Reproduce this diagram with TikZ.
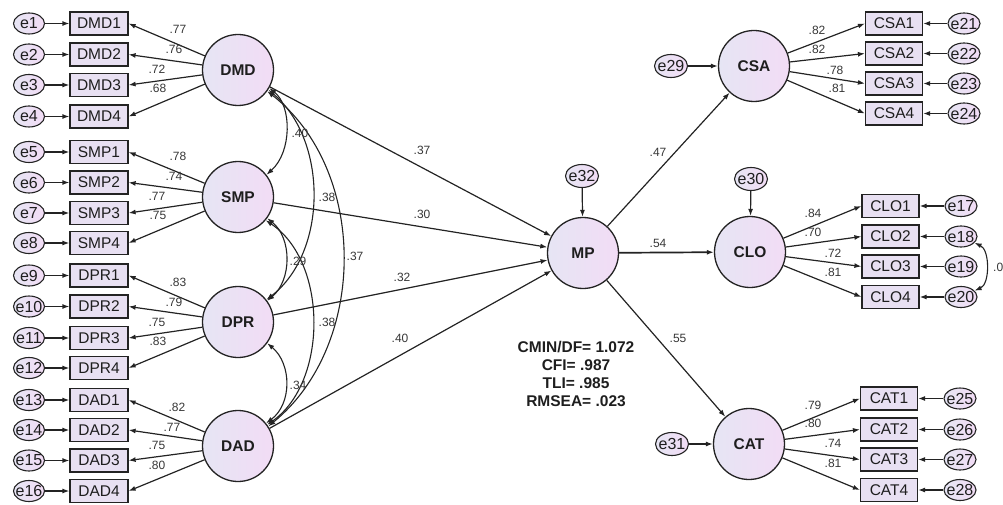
\documentclass[tikz,border=0pt]{standalone}
\usepackage{fontspec}
\setmainfont{Liberation Sans}
\usetikzlibrary{arrows.meta,shapes.geometric}
\definecolor{latL}{RGB}{230,229,244}
\definecolor{latR}{RGB}{242,220,245}
\definecolor{boxc}{RGB}{232,224,242}
\definecolor{linec}{RGB}{35,35,35}
\definecolor{txtc}{RGB}{30,30,30}
\definecolor{labc}{RGB}{55,55,55}
\newcommand\myobsf{\fontsize{15.5}{18}\selectfont}
\newcommand\mylatf{\fontsize{15.5}{18}\selectfont\bfseries}
\newcommand\myerrf{\fontsize{16}{18}\selectfont}
\newcommand\mylabf{\fontsize{12}{14}\selectfont}
\newcommand\mystatf{\fontsize{15.5}{18}\selectfont\bfseries}
\tikzset{
  lat/.style={circle, draw=linec, line width=1.3pt, minimum size=71pt, inner sep=0pt,
    left color=latL, right color=latR, text=txtc, font=\mylatf},
  obs/.style={rectangle, draw=linec, line width=1.2pt, minimum width=58pt, minimum height=23pt,
    inner sep=0pt, fill=boxc, text=txtc, font=\myobsf},
  err/.style={ellipse, draw=linec, line width=1.1pt, minimum width=31pt, minimum height=21pt,
    inner sep=0pt, left color=latL, right color=latR},
  errb/.style={err, minimum width=33pt, minimum height=23pt},
  etxt/.style={font=\myerrf, text=txtc, inner sep=0pt},
  arr/.style={draw=linec, line width=1.2pt, -{Latex[length=7pt,width=5pt]}},
  cov/.style={draw=linec, line width=1.1pt, {Latex[length=7pt,width=5pt]}-{Latex[length=7pt,width=5pt]}},
  lab/.style={font=\mylabf, text=labc, inner sep=0pt},
}
\begin{document}
\begin{tikzpicture}[x=1pt,y=-1pt]
\useasboundingbox (0,0) rectangle (1003,505);

% ---------- latent variables ----------
\node[lat] (DMD) at (238,70) {DMD};
\node[lat] (SMP) at (238,197) {SMP};
\node[lat] (DPR) at (238,322) {DPR};
\node[lat] (DAD) at (238,446) {DAD};
\node[lat] (MP) at (583,253) {MP};
\node[lat] (CSA) at (754,66) {CSA};
\node[lat] (CLO) at (750,252) {CLO};
\node[lat] (CAT) at (749,444) {CAT};

% ---------- left indicators ----------
\foreach \nm/\yy/\en in {DMD1/23.5/e1, DMD2/54.5/e2, DMD3/85/e3, DMD4/116.5/e4,
  SMP1/152/e5, SMP2/182.5/e6, SMP3/213/e7, SMP4/243/e8,
  DPR1/275.5/e9, DPR2/306.5/e10, DPR3/338/e11, DPR4/368/e12,
  DAD1/400/e13, DAD2/430/e14, DAD3/460.5/e15, DAD4/491/e16}{
  \node[obs] (\nm) at (99,\yy) {\nm};
  \node[err, label={[etxt]center:\en}] (\en) at (29,\yy) {};
  \draw[arr] (\en) -- (\nm);
}
\foreach \lv in {DMD,SMP,DPR,DAD}{
  \foreach \i in {1,2,3,4}{
    \draw[arr] (\lv) -- (\lv\i.east);
  }
}

% ---------- right indicators ----------
\foreach \nm/\xx/\yy/\en/\ex in {CSA1/894/23.5/e21/964, CSA2/894/53.5/e22/964, CSA3/894/83.5/e23/964, CSA4/894/113.5/e24/964,
  CLO1/890.5/206/e17/961, CLO2/890.5/236.5/e18/961, CLO3/890.5/266.5/e19/961, CLO4/890.5/297/e20/961,
  CAT1/889/398.5/e25/960, CAT2/889/429.5/e26/960, CAT3/889/459.5/e27/960, CAT4/889/490/e28/960}{
  \node[obs, minimum width=57pt] (\nm) at (\xx,\yy) {\nm};
  \node[err, minimum width=32pt, label={[etxt]center:\en}] (\en) at (\ex,\yy) {};
  \draw[arr] (\en) -- (\nm);
}
\foreach \lv in {CSA,CLO,CAT}{
  \foreach \i in {1,2,3,4}{
    \draw[arr] (\lv) -- (\lv\i.west);
  }
}

% ---------- disturbances ----------
\node[errb, label={[etxt]center:e29}] (e29) at (671,66) {};
\node[errb, label={[etxt]center:e30}] (e30) at (751,179) {};
\node[errb, label={[etxt]center:e31}] (e31) at (672,444) {};
\node[errb, label={[etxt]center:e32}] (e32) at (582,176) {};
\draw[arr] (e29) -- (CSA);
\draw[arr] (e30) -- (CLO);
\draw[arr] (e31) -- (CAT);
\draw[arr] (e32) -- (MP);

% ---------- structural paths ----------
\draw[arr] (DMD) -- (MP);
\draw[arr] (SMP) -- (MP);
\draw[arr] (DPR) -- (MP);
\draw[arr] (DAD) -- (MP);
\draw[arr] (MP) -- (CSA);
\draw[arr, line width=1.7pt] (MP) -- (CLO);
\draw[arr] (MP) -- (CAT);

% ---------- covariances ----------
\draw[cov] (DMD.-30) .. controls (292,106) and (292,152) .. (SMP.38);
\draw[cov] (DMD.-33) .. controls (328,140) and (328,252) .. (DPR.38);
\draw[cov] (DMD.-36) .. controls (368,170) and (368,345) .. (DAD.33);
\draw[cov] (SMP.-36) .. controls (292,238) and (292,280) .. (DPR.36);
\draw[cov] (SMP.-40) .. controls (328,262) and (328,382) .. (DAD.36);
\draw[cov] (DPR.-36) .. controls (292,364) and (292,404) .. (DAD.39);
\draw[cov] (e18.-25) .. controls (990,250) and (990,284) .. (e20.25);

% ---------- loading labels ----------
\node[lab] at (178,29) {.77};
\node[lab] at (174,49) {.76};
\node[lab] at (157,69) {.72};
\node[lab] at (158,88) {.68};
\node[lab] at (178,156) {.78};
\node[lab] at (174,176) {.74};
\node[lab] at (157,196) {.77};
\node[lab] at (158,215) {.75};
\node[lab] at (178,282) {.83};
\node[lab] at (174,302) {.79};
\node[lab] at (157,322) {.75};
\node[lab] at (158,341) {.83};
\node[lab] at (177,407) {.82};
\node[lab] at (172,427) {.77};
\node[lab] at (157,445) {.75};
\node[lab] at (157,465) {.80};

\node[lab] at (817,30) {.82};
\node[lab] at (817,49) {.82};
\node[lab] at (835,70) {.78};
\node[lab] at (837,88) {.81};
\node[lab] at (813,213) {.84};
\node[lab] at (813,232) {.70};
\node[lab] at (833,253) {.72};
\node[lab] at (833,272) {.81};
\node[lab] at (813,405) {.79};
\node[lab] at (813,423) {.80};
\node[lab] at (833,443) {.74};
\node[lab] at (833,463) {.81};

% ---------- structural labels ----------
\node[lab] at (422,150) {.37};
\node[lab] at (422,214) {.30};
\node[lab] at (402,277) {.32};
\node[lab] at (400,338) {.40};
\node[lab] at (658,152) {.47};
\node[lab] at (658,243) {.54};
\node[lab] at (678,338) {.55};

% ---------- covariance labels ----------
\node[lab] at (300,133) {.40};
\node[lab] at (327,197) {.38};
\node[lab] at (355,256) {.37};
\node[lab] at (298,261) {.29};
\node[lab] at (327,322) {.38};
\node[lab] at (298,385) {.34};
\node[lab, anchor=west] at (993,267) {.0};

% ---------- fit statistics ----------
\node[font=\mystatf, text=txtc, align=center, inner sep=0pt] (fit) at (576,374)
  {CMIN/DF= 1.072\\CFI= .987\\TLI= .985\\RMSEA= .023};
\end{tikzpicture}
\end{document}
